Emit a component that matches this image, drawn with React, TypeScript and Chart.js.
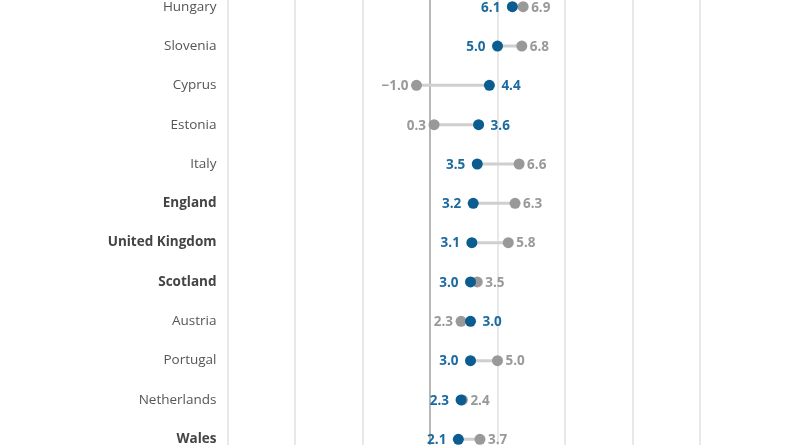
import React, { useEffect, useRef } from 'react';
import { Chart, registerables } from 'chart.js';

Chart.register(...registerables);

const categories = [
  'Hungary', 'Slovenia', 'Cyprus', 'Estonia', 'Italy', 'England',
  'United Kingdom', 'Scotland', 'Austria', 'Portugal', 'Netherlands', 'Wales',
];
const boldCategories = ['England', 'United Kingdom', 'Scotland', 'Wales'];
const blueValues = [6.1, 5.0, 4.4, 3.6, 3.5, 3.2, 3.1, 3.0, 3.0, 3.0, 2.3, 2.1];
const grayValues = [6.9, 6.8, -1.0, 0.3, 6.6, 6.3, 5.8, 3.5, 2.3, 5.0, 2.4, 3.7];
const xTickValues = [-15, -10, -5, 0, 5, 10, 15, 20];

const BLUE = '#0b5c91';
const BLUE_TEXT = '#1b6aa0';
const GRAY = '#999999';
const GRAY_TEXT = '#999999';
const CONNECTOR = '#cfcfcf';
const FONT = "'Open Sans', 'Noto Sans', sans-serif";

const fmt = (v: number) => v.toFixed(1).replace('-', '\u2212');

const valueLabels = {
  id: 'valueLabels',
  afterDatasetsDraw(chart: any) {
    const ctx = chart.ctx;
    const n = categories.length;
    const grayMeta = chart.getDatasetMeta(n);
    const blueMeta = chart.getDatasetMeta(n + 1);
    ctx.save();
    ctx.font = `bold 13.5px ${FONT}`;
    ctx.textBaseline = 'middle';
    for (let i = 0; i < n; i++) {
      const b = blueMeta.data[i];
      const g = grayMeta.data[i];
      if (!b || !g) continue;
      const blueLeft = blueValues[i] <= grayValues[i];
      ctx.fillStyle = BLUE_TEXT;
      if (blueLeft) {
        ctx.textAlign = 'right';
        ctx.fillText(fmt(blueValues[i]), b.x - 12, b.y + 1);
      } else {
        ctx.textAlign = 'left';
        ctx.fillText(fmt(blueValues[i]), b.x + 12, b.y + 1);
      }
      ctx.fillStyle = GRAY_TEXT;
      if (blueLeft) {
        ctx.textAlign = 'left';
        ctx.fillText(fmt(grayValues[i]), g.x + 8, g.y + 1);
      } else {
        ctx.textAlign = 'right';
        ctx.fillText(fmt(grayValues[i]), g.x - 8, g.y + 1);
      }
    }
    ctx.restore();
  },
};

export default function App() {
  const ref = useRef<HTMLCanvasElement | null>(null);

  useEffect(() => {
    if (!ref.current) return;
    const connectors = categories.map((c, i) => ({
      type: 'line' as const,
      label: c,
      data: [
        { x: blueValues[i], y: i },
        { x: grayValues[i], y: i },
      ],
      borderColor: CONNECTOR,
      borderWidth: 3,
      pointRadius: 0,
      order: 3,
    }));
    const chart = new Chart(ref.current, {
      type: 'scatter',
      data: {
        datasets: [
          ...connectors,
          {
            type: 'scatter',
            label: 'gray',
            data: grayValues.map((v, i) => ({ x: v, y: i })),
            backgroundColor: GRAY,
            borderWidth: 0,
            pointRadius: 5.5,
            order: 2,
          },
          {
            type: 'scatter',
            label: 'blue',
            data: blueValues.map((v, i) => ({ x: v, y: i })),
            backgroundColor: BLUE,
            borderWidth: 0,
            pointRadius: 5.5,
            order: 1,
          },
        ] as any,
      },
      options: {
        animation: false,
        responsive: false,
        devicePixelRatio: 1,
        layout: { autoPadding: false, padding: { left: 0, right: 100, top: 0, bottom: 0 } },
        plugins: {
          legend: { display: false },
          tooltip: { enabled: false },
        },
        scales: {
          x: {
            type: 'linear',
            min: -15,
            max: 20,
            afterBuildTicks: (s: any) => {
              s.ticks = xTickValues.map((v) => ({ value: v }));
            },
            afterFit: (s: any) => {
              s.height = 0;
              s.paddingLeft = 0;
              s.paddingRight = 0;
            },
            ticks: { display: false },
            border: { display: false },
            grid: {
              drawTicks: false,
              lineWidth: 2,
              color: (c: any) => (c.tick && c.tick.value === 0 ? '#b8b8b8' : '#e8e8e8'),
            },
          },
          y: {
            type: 'linear',
            reverse: true,
            min: -0.17,
            max: 11.145,
            afterBuildTicks: (s: any) => {
              s.ticks = categories.map((_, i) => ({ value: i }));
            },
            afterFit: (s: any) => {
              s.width = 227.5;
              s.paddingTop = 0;
              s.paddingBottom = 0;
            },
            border: { display: false },
            grid: { display: false, drawTicks: false },
            ticks: {
              padding: 11,
              callback: (v: any) => categories[v as number] ?? '',
              font: (c: any) => {
                const name = c.tick ? categories[c.tick.value] : '';
                return {
                  family: FONT,
                  size: 13.5,
                  weight: boldCategories.includes(name) ? 'bold' : 'normal',
                };
              },
              color: (c: any) => {
                const name = c.tick ? categories[c.tick.value] : '';
                return boldCategories.includes(name) ? '#444444' : '#555555';
              },
            },
          },
        },
      } as any,
      plugins: [valueLabels],
    });
    return () => chart.destroy();
  }, []);

  return (
    <div style={{ position: 'absolute', left: 0, top: 0, width: 800, height: 445, background: '#fff' }}>
      <canvas ref={ref} width={800} height={445} style={{ display: 'block' }} />
    </div>
  );
}
